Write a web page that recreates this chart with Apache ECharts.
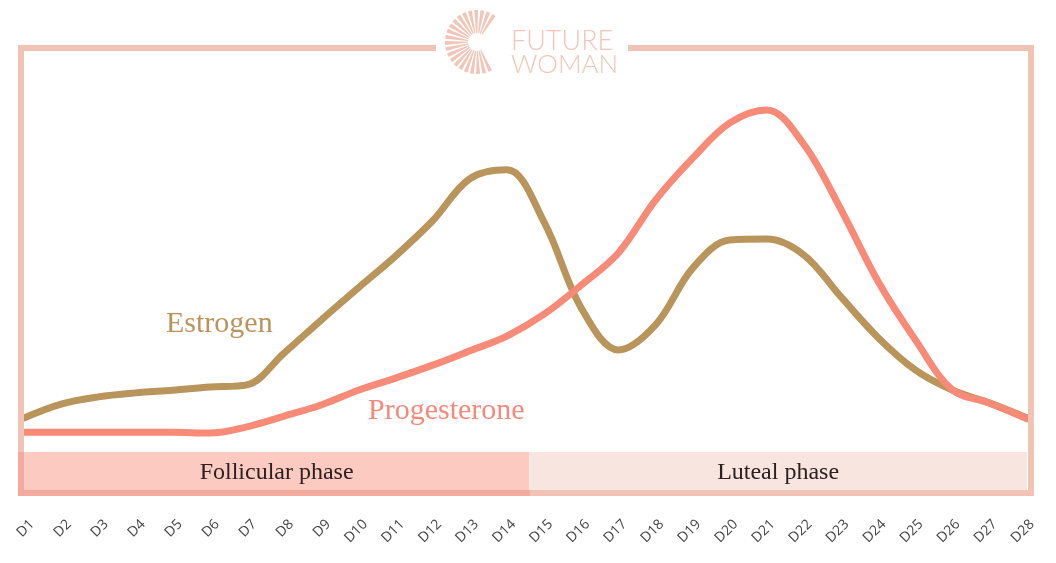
<!DOCTYPE html>
<html>
<head>
<meta charset="utf-8">
<script src="https://cdn.jsdelivr.net/npm/echarts@6/dist/echarts.min.js"></script>
<style>
  html, body { margin: 0; padding: 0; background: #ffffff; }
  #chart { width: 1056px; height: 563px; }
</style>
</head>
<body>
<div id="chart"></div>
<script>
// ---- data ----
const dayLabels = ['D1','D2','D3','D4','D5','D6','D7','D8','D9','D10','D11','D12','D13','D14',
                   'D15','D16','D17','D18','D19','D20','D21','D22','D23','D24','D25','D26','D27','D28'];
const estrogen = [16.8,19.9,21.5,22.4,23.0,23.7,24.2,31.3,38.7,45.9,53.0,60.9,70.3,72.3,
                  60.6,41.4,32.0,37.6,50.3,56.6,56.8,53.2,43.8,34.7,27.5,23.0,20.1,16.8];
const progesterone = [13.6,13.6,13.6,13.6,13.6,13.4,14.8,17.2,19.7,23.0,25.7,28.6,31.8,35.1,
                      40.0,46.5,53.7,65.5,74.9,82.8,85.7,77.9,63.3,47.2,34.2,23.0,20.1,16.6];
const phaseNames = ['Follicular phase', 'Luteal phase'];
const phaseBounds = [1, 14.6, 28];
const phaseTop = 9.2;
const seriesNames = ['Estrogen', 'Progesterone'];

const toPairs = arr => arr.map((v, i) => [i + 1, v]);

// ---- logo rays (decoration) ----
const logoColor = '#f1c5b7';
const rays = [];
const cx = 477, cy = 42;
const nRays = 22;
for (let i = 0; i < nRays; i++) {
  const a0 = (62 + i * (248 / nRays)) * Math.PI / 180;
  const a1 = a0 + 7 * Math.PI / 180;
  rays.push({
    type: 'sector', z: 20,
    shape: { cx: cx, cy: cy, r0: 9, r: 32, startAngle: a0, endAngle: a1 },
    style: { fill: logoColor }
  });
}

const chart = echarts.init(document.getElementById('chart'), null, { renderer: 'canvas' });
const frameColor = '#f1c3b5';

chart.setOption({
  animation: false,
  backgroundColor: '#ffffff',
  grid: [
    { left: 24, right: 29, top: 46, bottom: 70 },
    { left: 32, right: 24, top: 46, bottom: 70 }
  ],
  xAxis: [
    { type: 'value', gridIndex: 0, min: 1, max: 28, interval: 1,
      axisLine: { show: false }, axisTick: { show: false }, splitLine: { show: false },
      axisLabel: { show: false } },
    { type: 'value', gridIndex: 1, min: 1, max: 28, interval: 1,
      axisLine: { show: false }, axisTick: { show: false }, splitLine: { show: false },
      axisLabel: { show: true, rotate: 45, margin: 29, color: '#444444',
                   fontFamily: 'Open Sans', fontSize: 14,
                   formatter: v => dayLabels[Math.round(v) - 1] } }
  ],
  yAxis: [
    { type: 'value', gridIndex: 0, min: 0, max: 100, show: false },
    { type: 'value', gridIndex: 1, min: 0, max: 100, show: false }
  ],
  series: [
    {
      name: seriesNames[0], type: 'line', xAxisIndex: 0, yAxisIndex: 0,
      data: toPairs(estrogen), smooth: 0.35, showSymbol: false, z: 3,
      lineStyle: { color: '#b9955b', width: 7, cap: 'round', join: 'round' },
      markArea: {
        silent: true,
        label: { show: true, position: 'inside', color: '#2b2121',
                 fontFamily: 'Liberation Serif', fontSize: 24 },
        data: [
          [{ name: phaseNames[0], xAxis: phaseBounds[0], yAxis: 0, itemStyle: { color: '#fdcac1' } },
           { xAxis: phaseBounds[1], yAxis: phaseTop }],
          [{ name: phaseNames[1], xAxis: phaseBounds[1], yAxis: 0, itemStyle: { color: '#f9e5df' } },
           { xAxis: phaseBounds[2], yAxis: phaseTop }]
        ]
      }
    },
    {
      name: seriesNames[1], type: 'line', xAxisIndex: 0, yAxisIndex: 0,
      data: toPairs(progesterone), smooth: 0.35, showSymbol: false, z: 4,
      lineStyle: { color: '#f88a78', width: 7, cap: 'round', join: 'round' }
    }
  ],
  graphic: [
    // frame
    { type: 'polyline', z: 10,
      shape: { points: [[436,48],[21,48],[21,493],[1031,493],[1031,48],[628,48]] },
      style: { stroke: frameColor, lineWidth: 6, fill: null } },
    // darker overlap under follicular band
    { type: 'polyline', z: 11,
      shape: { points: [[21,452],[21,493],[530,493]] },
      style: { stroke: '#f3ab9e', lineWidth: 6, fill: null } },
    // logo
    { type: 'group', children: rays },
    { type: 'text', z: 20, left: 511, top: 28,
      style: { text: 'FUTURE', fill: logoColor, font: '300 27px Lato' } },
    { type: 'text', z: 20, left: 511, top: 52,
      style: { text: 'WOMAN', fill: logoColor, font: '300 26px Lato' } },
    // series labels
    { type: 'text', z: 20, left: 166, top: 309,
      style: { text: seriesNames[0], fill: '#b9955b', font: '30px "Liberation Serif"' } },
    { type: 'text', z: 20, left: 368, top: 396,
      style: { text: seriesNames[1], fill: '#f58a7a', font: '30px "Liberation Serif"' } }
  ]
});
</script>
</body>
</html>
